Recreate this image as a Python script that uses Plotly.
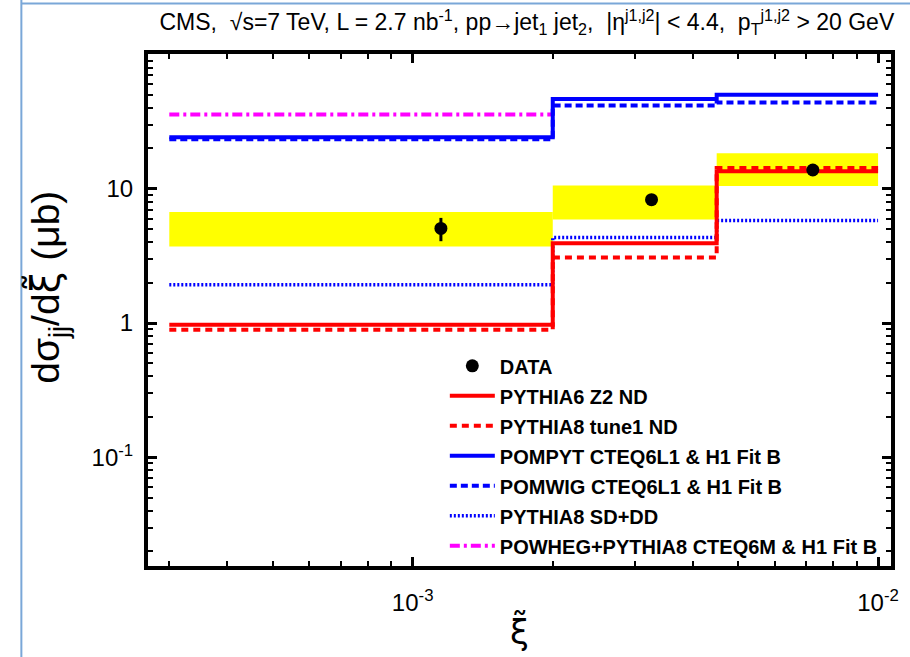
import math
import plotly.graph_objects as go

# xi-tilde bins and measured cross sections (microbarn)
bin_edges = [3e-4, 2e-3, 4.5e-3, 1e-2]
data_x = [1.15e-3, 3.26e-3, 7.24e-3]
data_y = [5.07, 8.3, 13.8]
data_err = [1.0, 0.5, 0.7]
syst_lo = [3.72, 5.9, 10.5]
syst_hi = [6.73, 10.6, 18.4]

# Monte Carlo predictions per bin
pythia6_z2 = [0.97, 3.93, 13.5]
pythia8_tune1 = [0.89, 3.08, 14.3]
pompyt = [24.2, 46.7, 50.2]
pomwig = [23.4, 41.7, 44.0]
pythia8_sddd = [1.93, 4.33, 5.8]
powheg = [35.7]

x_ticks = [1e-3, 1e-2]
x_ticktext = ["10<sup>-3</sup>", "10<sup>-2</sup>"]
y_ticks = [0.1, 1, 10, 100]
y_ticktext = ["10<sup>-1</sup>", "1", "10", ""]

FONT = "Liberation Sans, Arial, Helvetica, sans-serif"
XI_T = '<span style="font-family:DejaVu Sans">ξ̃</span>'


def step(vals):
    n = len(vals)
    return bin_edges[: n + 1], list(vals) + [vals[-1]]


fig = go.Figure()

# systematic uncertainty bands
for i in range(len(data_y)):
    x0, x1 = bin_edges[i], bin_edges[i + 1]
    fig.add_trace(go.Scatter(
        x=[x0, x1, x1, x0, x0], y=[syst_lo[i], syst_lo[i], syst_hi[i], syst_hi[i], syst_lo[i]],
        fill="toself", fillcolor="#ffff00", line=dict(width=0), mode="lines",
        showlegend=False, hoverinfo="skip"))

models = [
    ("PYTHIA8 SD+DD", pythia8_sddd, "#0000ff", "2px,2px", 3.5, 6),
    ("POWHEG+PYTHIA8 CTEQ6M & H1 Fit B", powheg, "#ff00ff", "10px,4px,3px,4px", 4, 7),
    ("POMWIG CTEQ6L1 & H1 Fit B", pomwig, "#0000ff", "7px,4px", 4, 5),
    ("POMPYT CTEQ6L1 & H1 Fit B", pompyt, "#0000ff", "solid", 4, 4),
    ("PYTHIA8 tune1 ND", pythia8_tune1, "#ff0000", "7px,5px", 4, 3),
    ("PYTHIA6 Z2 ND", pythia6_z2, "#ff0000", "solid", 4, 2),
]
for name, vals, color, dash, width, rank in models:
    xs, ys = step(vals)
    fig.add_trace(go.Scatter(
        x=xs, y=ys, mode="lines", name=name, line_shape="hv",
        line=dict(color=color, dash=dash, width=width),
        legendrank=rank, legendgroup=name))

fig.add_trace(go.Scatter(
    x=data_x, y=data_y, mode="markers", name="DATA",
    marker=dict(color="black", size=13, symbol="circle"),
    error_y=dict(type="data", array=data_err, color="black", thickness=3, width=0),
    legendrank=1, legendgroup="DATA"))

fig.update_layout(
    width=910, height=657,
    margin=dict(l=148, r=11, t=54, b=86),
    paper_bgcolor="white", plot_bgcolor="white",
    font=dict(family=FONT, color="black"),
    title=dict(
        text=("CMS,  √s=7 TeV, L = 2.7 nb<sup>-1</sup>, pp→jet<sub>1</sub> jet<sub>2</sub>,  "
              "|η<sup>j1,j2</sup>| < 4.4,  p<sub>T</sub><sup>j1,j2</sup> > 20 GeV"),
        x=0.579, xanchor="center", y=0.966, yanchor="middle",
        font=dict(size=23, family=FONT)),
    legend=dict(
        x=0.3995, y=0.429, xanchor="left", yanchor="top",
        bgcolor="rgba(0,0,0,0)", borderwidth=0,
        font=dict(size=20, family="Liberation Sans, Arial", weight="bold"),
        tracegroupgap=1, itemwidth=45),
    showlegend=True,
)

fig.update_xaxes(
    type="log", range=[math.log10(2.7e-4), math.log10(1.066e-2)],
    tickmode="array", tickvals=x_ticks, ticktext=x_ticktext,
    ticks="inside", ticklen=9, tickwidth=3, tickcolor="black",
    showline=True, linewidth=4, linecolor="black", mirror="allticks",
    showgrid=False, zeroline=False,
    tickfont=dict(size=24), ticklabelstandoff=12,
    minor=dict(tickmode="array",
               tickvals=[k * 1e-4 for k in range(3, 10)] + [k * 1e-3 for k in range(2, 10)],
               ticks="inside", ticklen=5, tickwidth=2, tickcolor="black", showgrid=False),
    title=dict(text=XI_T, font=dict(size=34), standoff=6),
)

fig.update_yaxes(
    type="log", range=[math.log10(0.0155), 2.004],
    tickmode="array", tickvals=y_ticks, ticktext=y_ticktext,
    ticks="inside", ticklen=9, tickwidth=3, tickcolor="black",
    showline=True, linewidth=4, linecolor="black", mirror="allticks",
    showgrid=False, zeroline=False,
    tickfont=dict(size=24), ticklabelstandoff=6,
    minor=dict(tickmode="array",
               tickvals=[k * 10.0 ** e for e in (-2, -1, 0, 1) for k in range(2, 10)],
               ticks="inside", ticklen=5, tickwidth=2, tickcolor="black", showgrid=False),
)

# y-axis title placed explicitly
fig.add_annotation(
    text="dσ<sub>jj</sub>/d" + XI_T + " (μb)",
    xref="paper", yref="paper", x=(46 - 148) / 751, y=(571 - 290) / 517,
    xanchor="center", yanchor="middle", textangle=-90, showarrow=False,
    font=dict(size=39, family=FONT))

# slide frame lines
fig.add_shape(type="line", xref="paper", yref="paper", x0=-128 / 751, x1=-128 / 751,
              y0=-0.2, y1=1.2, line=dict(color="#7aa7d8", width=2), layer="above")
fig.add_shape(type="line", xref="paper", yref="paper", x0=-128 / 751, x1=1.1,
              y0=(571 - 3) / 517, y1=(571 - 3) / 517,
              line=dict(color="#7aa7d8", width=2), layer="above")

fig.write_html("out.html")
